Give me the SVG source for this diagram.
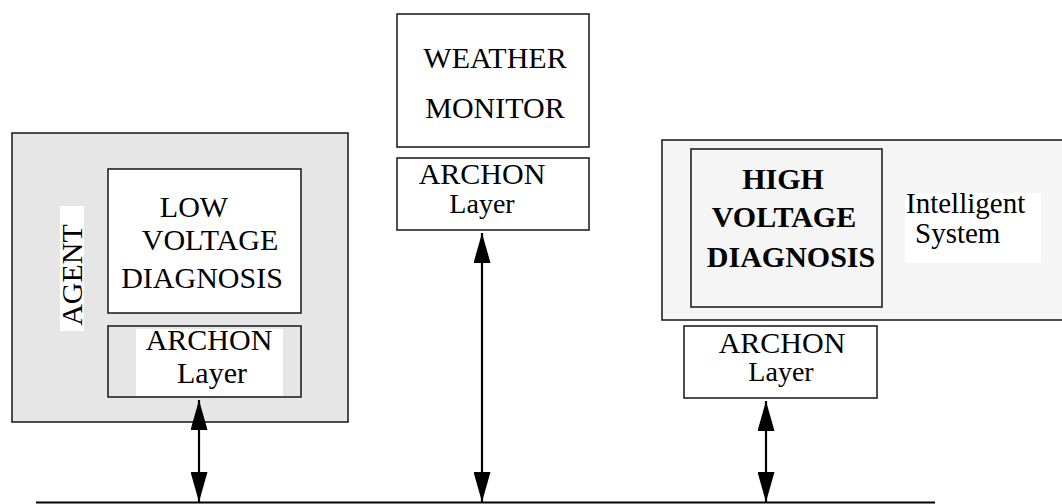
<svg xmlns="http://www.w3.org/2000/svg" width="1062" height="504" viewBox="0 0 1062 504">
<style>
.box{stroke:#222;stroke-width:1.6;}
text{font-family:'Liberation Serif','Times New Roman',serif;font-size:30px;fill:#000;}
.b{font-weight:bold;}
.c{text-anchor:middle;}
.s{font-size:28px;}
.conn{stroke:#000;stroke-width:2.2;fill:none;}
</style>
<defs>
<marker id="ah" markerUnits="userSpaceOnUse" markerWidth="30" markerHeight="17" refX="30" refY="8.5" orient="auto-start-reverse" viewBox="0 0 30 17">
<path d="M0,0 L30,8.5 L0,17 z" fill="#000"/>
</marker>
</defs>
<rect width="1062" height="504" fill="#fff"/>
<g id="agent">
<rect class="box" x="12" y="133" width="336" height="289" fill="#e6e6e6"/>
<rect x="60" y="206" width="24" height="125" fill="#fff"/>
<text class="c" transform="translate(82 275) rotate(-90)" x="0" y="0">AGENT</text>
</g>
<g id="low-voltage">
<rect class="box" x="108" y="169" width="193" height="144" fill="#fff"/>
<text class="c" x="194" y="217">LOW</text>
<text class="c" x="210" y="250">VOLTAGE</text>
<text class="c" x="202" y="288">DIAGNOSIS</text>
</g>
<g id="archon-left">
<rect class="box" x="108" y="326" width="193" height="71" fill="#e6e6e6"/>
<rect x="136" y="329" width="147" height="67" fill="#fff"/>
<text class="c" x="209" y="350">ARCHON</text>
<text class="c" x="212" y="383">Layer</text>
</g>
<g id="weather">
<rect class="box" x="397" y="14" width="192" height="133" fill="#fff"/>
<text class="c" x="495" y="68">WEATHER</text>
<text class="c" x="495" y="118">MONITOR</text>
</g>
<g id="archon-mid">
<rect class="box" x="397" y="158" width="192" height="72" fill="#fff"/>
<text class="c" x="482" y="184">ARCHON</text>
<text class="c s" x="482" y="213">Layer</text>
</g>
<g id="intelligent">
<rect class="box" x="662" y="140" width="410" height="180" fill="#f5f5f5"/>
<rect x="905" y="193" width="136" height="70" fill="#fff"/>
<text style="font-size:29px" x="906" y="213">Intelligent</text>
<text style="font-size:29px" x="915" y="243">System</text>
</g>
<g id="high-voltage">
<rect class="box" x="691" y="149" width="191" height="158" fill="#f5f5f5"/>
<text class="b c" x="783" y="189">HIGH</text>
<text class="b c" x="784" y="227">VOLTAGE</text>
<text class="b c" x="791" y="267">DIAGNOSIS</text>
</g>
<g id="archon-right">
<rect class="box" x="684" y="326" width="193" height="72" fill="#fff"/>
<text class="c" x="782" y="353">ARCHON</text>
<text class="c s" x="781" y="381">Layer</text>
</g>
<g id="connectors">
<line x1="36" y1="502.5" x2="935" y2="502.5" stroke="#000" stroke-width="2"/>
<line class="conn" x1="199" y1="400" x2="199" y2="502" marker-start="url(#ah)" marker-end="url(#ah)"/>
<line class="conn" x1="482" y1="233" x2="482" y2="502" marker-start="url(#ah)" marker-end="url(#ah)"/>
<line class="conn" x1="766" y1="401" x2="766" y2="502" marker-start="url(#ah)" marker-end="url(#ah)"/>
</g>
</svg>
